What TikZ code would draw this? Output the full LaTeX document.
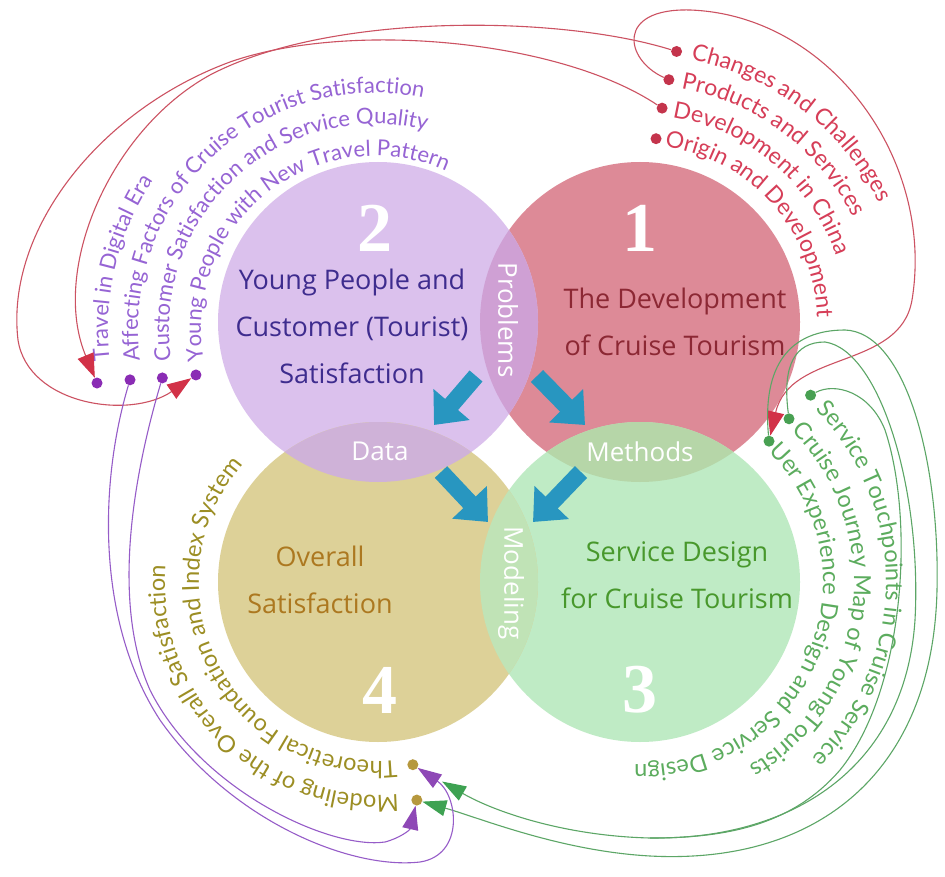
\documentclass[tikz,border=0pt]{standalone}
\usepackage{fontspec}
\setmainfont{Open Sans}
\newfontfamily\arcfont{Lato}
\newfontfamily\numfont{Liberation Serif}
\usetikzlibrary{arrows.meta,decorations.text,calc}

% circle fills and overlap fills
\definecolor{cRed}{RGB}{221,138,151}
\definecolor{cPur}{RGB}{219,193,237}
\definecolor{cOli}{RGB}{221,209,152}
\definecolor{cGrn}{RGB}{191,235,197}
\definecolor{lProb}{RGB}{207,160,212}
\definecolor{lData}{RGB}{207,178,216}
\definecolor{lMeth}{RGB}{182,214,168}
\definecolor{lMod}{RGB}{192,227,182}
\definecolor{arrBlue}{RGB}{40,150,192}
% text colours inside the circles
\definecolor{tRed}{RGB}{140,40,52}
\definecolor{tPur}{RGB}{62,44,142}
\definecolor{tOli}{RGB}{172,120,32}
\definecolor{tGrn}{RGB}{72,152,44}
% outer topic lists
\definecolor{oRed}{RGB}{214,62,88}
\definecolor{oPur}{RGB}{150,100,212}
\definecolor{oGrn}{RGB}{92,172,94}
\definecolor{oOli}{RGB}{156,142,36}
\definecolor{bRed}{RGB}{196,52,76}
\definecolor{bPur}{RGB}{138,44,180}
\definecolor{bGrn}{RGB}{72,160,82}
\definecolor{bOli}{RGB}{182,152,62}
% links
\definecolor{lnRed}{RGB}{204,82,98}
\definecolor{lnPur}{RGB}{150,92,200}
\definecolor{lnGrn}{RGB}{92,166,102}
\definecolor{ahRed}{RGB}{210,50,72}
\definecolor{ahPur}{RGB}{142,72,182}
\definecolor{ahGrn}{RGB}{62,162,82}

\begin{document}
\begin{tikzpicture}[x=1pt,y=1pt,
  circ/.style={circle,inner sep=0pt,minimum size=320pt,draw=none},
  maintxt/.style={align=center,font=\fontsize{27}{47}\selectfont},
  lenstxt/.style={text=white,font=\fontsize{26}{26}\selectfont},
  numtxt/.style={text=white,inner sep=0pt,font=\numfont\bfseries\fontsize{70}{70}\selectfont},
  bigarrow/.style={draw=arrBlue,line width=17pt,-{Triangle[width=46pt,length=27pt]}},
  bul/.style={circle,inner sep=0pt,minimum size=11pt},
  curved/.style n args={3}{decorate,decoration={text along path,text align=left,
      text color=#1,text={|\arcfont\fontsize{#2}{#2}\selectfont|#3}}},
  redlink/.style={draw=lnRed,line width=1.1pt,-{Triangle[length=24pt,width=17pt,color=ahRed]}},
  purlink/.style={draw=lnPur,line width=1.1pt,-{Triangle[length=24pt,width=16pt,color=ahPur]}},
  grnlink/.style={draw=lnGrn,line width=1.1pt,-{Triangle[length=24pt,width=16pt,color=ahGrn]}}
]
\useasboundingbox (0,0) rectangle (945,-877);
\fill[white] (0,0) rectangle (945,-877);

% the four topic circles
\node[circ,fill=cRed] (c1) at (640,-322) {};
\node[circ,fill=cPur] (c2) at (378,-322) {};
\node[circ,fill=cGrn] (c3) at (640,-582) {};
\node[circ,fill=cOli] (c4) at (378,-582) {};

% overlaps
\begin{scope}
  \clip (c1.center) circle[radius=160];
  \fill[lProb] (c2.center) circle[radius=160];
\end{scope}
\begin{scope}
  \clip (c2.center) circle[radius=160];
  \fill[lData] (c4.center) circle[radius=160];
\end{scope}
\begin{scope}
  \clip (c1.center) circle[radius=160];
  \fill[lMeth] (c3.center) circle[radius=160];
\end{scope}
\begin{scope}
  \clip (c3.center) circle[radius=160];
  \fill[lMod] (c4.center) circle[radius=160];
\end{scope}

% numbers
\node[numtxt] (n1) at (640,-228) {1};
\node[numtxt] (n2) at (375,-228) {2};
\node[numtxt] (n3) at (640,-690) {3};
\node[numtxt] (n4) at (380,-690) {4};

% circle titles
\node[maintxt,text=tPur] (t2) at (352,-326) {Young People and\\Customer (Tourist)\\Satisfaction};
\node[maintxt,text=tRed] (t1) at (675,-322) {The Development\\of Cruise Tourism};
\node[maintxt,text=tOli] (t4) at (320,-580) {Overall\\Satisfaction};
\node[maintxt,text=tGrn] (t3) at (677,-575) {Service Design\\for Cruise Tourism};

% overlap labels
\node[lenstxt,rotate=-90] (lp) at (508,-320) {Problems};
\node[lenstxt] (ld) at (380,-451) {Data};
\node[lenstxt] (lm) at (640,-452) {Methods};
\node[lenstxt,rotate=-90] (lo) at (511,-583) {Modeling};

% flow arrows
\coordinate (a1s) at (476,-376); \coordinate (a1e) at (434,-425);
\coordinate (a2s) at (537,-376); \coordinate (a2e) at (585,-425);
\coordinate (a3s) at (441,-472); \coordinate (a3e) at (488,-522);
\coordinate (a4s) at (581,-472); \coordinate (a4e) at (533,-522);
\draw[bigarrow] (a1s) -- (a1e);
\draw[bigarrow] (a2s) -- (a2e);
\draw[bigarrow] (a3s) -- (a3e);
\draw[bigarrow] (a4s) -- (a4e);

% ---- topic list of circle 1
\path[curved={oRed}{23}{Changes and Challenges}]
  ([shift={(79:267)}]c1.center) arc[start angle=79,end angle=-40,radius=267];
\path[curved={oRed}{23}{Products and Services}]
  ([shift={(80:237)}]c1.center) arc[start angle=80,end angle=-40,radius=237];
\path[curved={oRed}{23}{Development in China}]
  ([shift={(81:207)}]c1.center) arc[start angle=81,end angle=-40,radius=207];
\path[curved={oRed}{23}{Origin and Development}]
  ([shift={(82:177)}]c1.center) arc[start angle=82,end angle=-40,radius=177];
\node[bul,fill=bRed] (bCh) at ([shift={(82.3:273)}]c1.center) {};
\node[bul,fill=bRed] (bPr) at ([shift={(83.2:244)}]c1.center) {};
\node[bul,fill=bRed] (bDv) at ([shift={(84.1:215)}]c1.center) {};
\node[bul,fill=bRed] (bOr) at ([shift={(85:184)}]c1.center) {};

% ---- topic list of circle 2
\coordinate (pc) at (375,-330);
\path[curved={oPur}{22}{Young People with New Travel Pattern}]
  ([shift={(190:174)}]pc) arc[start angle=190,end angle=-20,radius=174];
\path[curved={oPur}{22}{Customer Satisfaction and Service Quality}]
  ([shift={(188.5:206)}]pc) arc[start angle=188.5,end angle=-20,radius=206];
\path[curved={oPur}{22}{Affecting Factors of Cruise Tourist Satisfaction}]
  ([shift={(187.5:237)}]pc) arc[start angle=187.5,end angle=-20,radius=237];
\path[curved={oPur}{22}{Travel in Digital Era}]
  ([shift={(186.5:267)}]pc) arc[start angle=186.5,end angle=60,radius=267];
\node[bul,fill=bPur] (bYo) at ([shift={(194.1:184.6)}]pc) {};
\node[bul,fill=bPur] (bCu) at ([shift={(192.7:218)}]pc) {};
\node[bul,fill=bPur] (bAf) at ([shift={(191.5:250)}]pc) {};
\node[bul,fill=bPur] (bTr) at ([shift={(190.8:283)}]pc) {};

% ---- topic list of circle 3
\path[curved={oGrn}{23.5}{Service Touchpoints in Cruise Service}]
  ([shift={(44.5:246)}]c3.center) arc[start angle=44.5,end angle=-160,radius=246];
\path[curved={oGrn}{23.5}{Cruise Journey Map of YoungTourists}]
  ([shift={(45:214)}]c3.center) arc[start angle=45,end angle=-160,radius=214];
\path[curved={oGrn}{23.5}{Uer Experience Design and Service Design}]
  ([shift={(45.5:183)}]c3.center) arc[start angle=45.5,end angle=-160,radius=183];
\node[bul,fill=bGrn] (bSe) at ([shift={(47.6:253)}]c3.center) {};
\node[bul,fill=bGrn] (bCr) at ([shift={(47.6:221)}]c3.center) {};
\node[bul,fill=bGrn] (bUe) at ([shift={(47.5:191)}]c3.center) {};

% ---- topic list of circle 4
\path[curved={oOli}{23.5}{Theoretical Foundation and Index System}]
  ([shift={(-84:179)}]c4.center) arc[start angle=-84,end angle=-260,radius=179];
\path[curved={oOli}{23.5}{Modeling of the Overall Satisfaction}]
  ([shift={(-84.5:213)}]c4.center) arc[start angle=-84.5,end angle=-260,radius=213];
\node[bul,fill=bOli] (bTh) at ([shift={(-79.2:186)}]c4.center) {};
\node[bul,fill=bOli] (bMo) at ([shift={(-79.9:221.5)}]c4.center) {};

% ---- links between the lists
\draw[redlink] (bCh) .. controls (560,-15) and (330,-12) .. (210,-75)
  .. controls (110,-130) and (50,-270) .. (bTr);
\draw[redlink] (bDv) .. controls (560,-40) and (350,-20) .. (230,-62)
  .. controls (100,-110) and (5,-230) .. (18,-340)
  .. controls (28,-405) and (130,-420) .. (bYo);
\draw[redlink] (bPr) .. controls (625,-60) and (615,-8) .. (690,-10)
  .. controls (830,-15) and (935,-160) .. (912,-300)
  .. controls (900,-370) and (790,-350) .. (bUe);

\draw[grnlink] (bUe) .. controls (762,-365) and (790,-330) .. (845,-330)
  .. controls (905,-332) and (940,-460) .. (937,-590)
  .. controls (933,-770) and (820,-865) .. (650,-856)
  .. controls (560,-851) and (480,-818) .. (bMo);
\draw[grnlink,shorten >=28pt] (bCr) .. controls (782,-365) and (795,-342) .. (825,-342)
  .. controls (880,-350) and (922,-490) .. (915,-620)
  .. controls (905,-770) and (790,-840) .. (650,-838)
  .. controls (565,-836) and (495,-812) .. (bTh);
\coordinate (gj) at (650,-838);
\draw[draw=lnGrn,line width=1.1pt] (bSe) .. controls (835,-382) and (870,-392) .. (885,-430)
  .. controls (915,-520) and (905,-690) .. (840,-770)
  .. controls (790,-828) and (720,-838) .. (gj);

\draw[purlink] (bCu) .. controls (135,-470) and (110,-600) .. (150,-690)
  .. controls (200,-790) and (330,-850) .. (385,-842)
  .. controls (400,-838) and (410,-830) .. (bMo);
\draw[purlink] (bAf) .. controls (100,-480) and (95,-620) .. (160,-720)
  .. controls (230,-820) and (350,-870) .. (420,-862)
  .. controls (465,-855) and (458,-795) .. (bTh);
\end{tikzpicture}
\end{document}
